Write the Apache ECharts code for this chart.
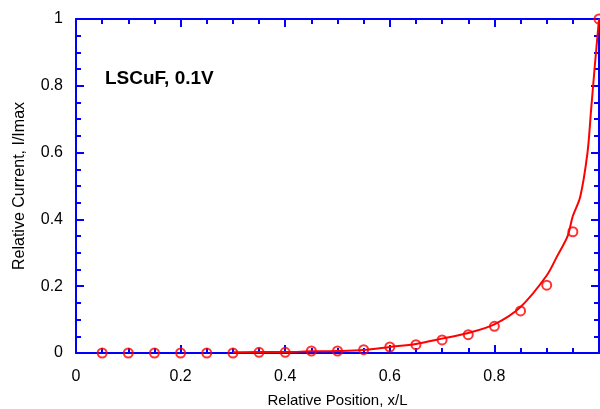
<!DOCTYPE html>
<html>
<head>
<meta charset="utf-8">
<script src="https://cdn.jsdelivr.net/npm/echarts@6/dist/echarts.min.js"></script>
<style>
  html, body { margin: 0; padding: 0; background: #fff; }
  #main { width: 600px; height: 409px; }
</style>
</head>
<body>
<div id="main"></div>
<script>
// measured points (circles)
const pointX = [0.05, 0.1, 0.15, 0.2, 0.25, 0.3, 0.35, 0.4, 0.45, 0.5,
                0.55, 0.6, 0.65, 0.7, 0.75, 0.8, 0.85, 0.9, 0.95, 1.0];
const pointY = [0, 0, 0, 0, 0, 0, 0.002, 0.002, 0.006, 0.006,
                0.01, 0.018, 0.025, 0.039, 0.055, 0.08, 0.126, 0.203, 0.363, 1.0];

// model curve
const curveX = [0.3, 0.35, 0.4, 0.45, 0.5, 0.55, 0.6, 0.65, 0.7, 0.75, 0.8, 0.85,
                0.9, 0.92, 0.94, 0.95, 0.964, 0.978, 0.985, 0.992, 1.0];
const curveY = [0.002, 0.003, 0.003, 0.005, 0.006, 0.009, 0.018, 0.027, 0.043, 0.06, 0.086, 0.138,
                0.232, 0.29, 0.35, 0.41, 0.467, 0.6, 0.73, 0.86, 1.0];

const label = 'LSCuF, 0.1V';
const xName = 'Relative Position, x/L';
const yName = 'Relative Current, I/Imax';

const blue = '#0000ff';
const red = '#ff0000';
const font = 'Liberation Sans, Arial, sans-serif';

const tickStyle = {
    axisLine: { show: true, onZero: false, lineStyle: { color: blue, width: 2 } },
    axisTick: { show: true, inside: true, length: 8, lineStyle: { color: blue, width: 2 } },
    minorTick: { show: true, splitNumber: 4, length: 5, lineStyle: { color: blue, width: 2 } },
    splitLine: { show: false }
};

const myChart = echarts.init(document.getElementById('main'));

const option = {
    animation: false,
    backgroundColor: '#fff',
    grid: { left: 76, right: 1, top: 19, bottom: 56, outerBoundsMode: 'none' },
    graphic: [{
        type: 'text',
        left: 105,
        top: 69,
        style: { text: label, font: 'bold 19px ' + font, fill: '#000' }
    }],
    xAxis: [{
        type: 'value', min: 0, max: 1, interval: 0.2,
        name: xName, nameLocation: 'middle', nameGap: 40, nameMoveOverlap: false,
        nameTextStyle: { fontFamily: font, fontSize: 15, color: '#000' },
        axisLabel: { fontFamily: font, fontSize: 16, color: '#000', margin: 16, showMaxLabel: false },
        ...tickStyle
    }, {
        type: 'value', min: 0, max: 1, interval: 0.2, position: 'top',
        axisLabel: { show: false },
        ...tickStyle
    }],
    yAxis: [{
        type: 'value', min: 0, max: 1, interval: 0.2,
        name: yName, nameLocation: 'middle', nameGap: 48, nameMoveOverlap: false,
        nameTextStyle: { fontFamily: font, fontSize: 16, color: '#000' },
        axisLabel: { fontFamily: font, fontSize: 16, color: '#000', margin: 13 },
        ...tickStyle
    }, {
        type: 'value', min: 0, max: 1, interval: 0.2, position: 'right',
        axisLabel: { show: false },
        ...tickStyle
    }],
    series: [{
        type: 'line',
        data: curveX.map((x, i) => [x, curveY[i]]),
        showSymbol: false,
        smooth: 0.3,
        lineStyle: { color: red, width: 2 },
        z: 3
    }, {
        type: 'scatter',
        data: pointX.map((x, i) => [x, pointY[i]]),
        symbol: 'circle',
        symbolSize: 9,
        itemStyle: { color: 'rgba(0,0,0,0)', borderColor: red, borderWidth: 2 },
        clip: false,
        z: 4
    }]
};
myChart.setOption(option);
</script>
</body>
</html>
